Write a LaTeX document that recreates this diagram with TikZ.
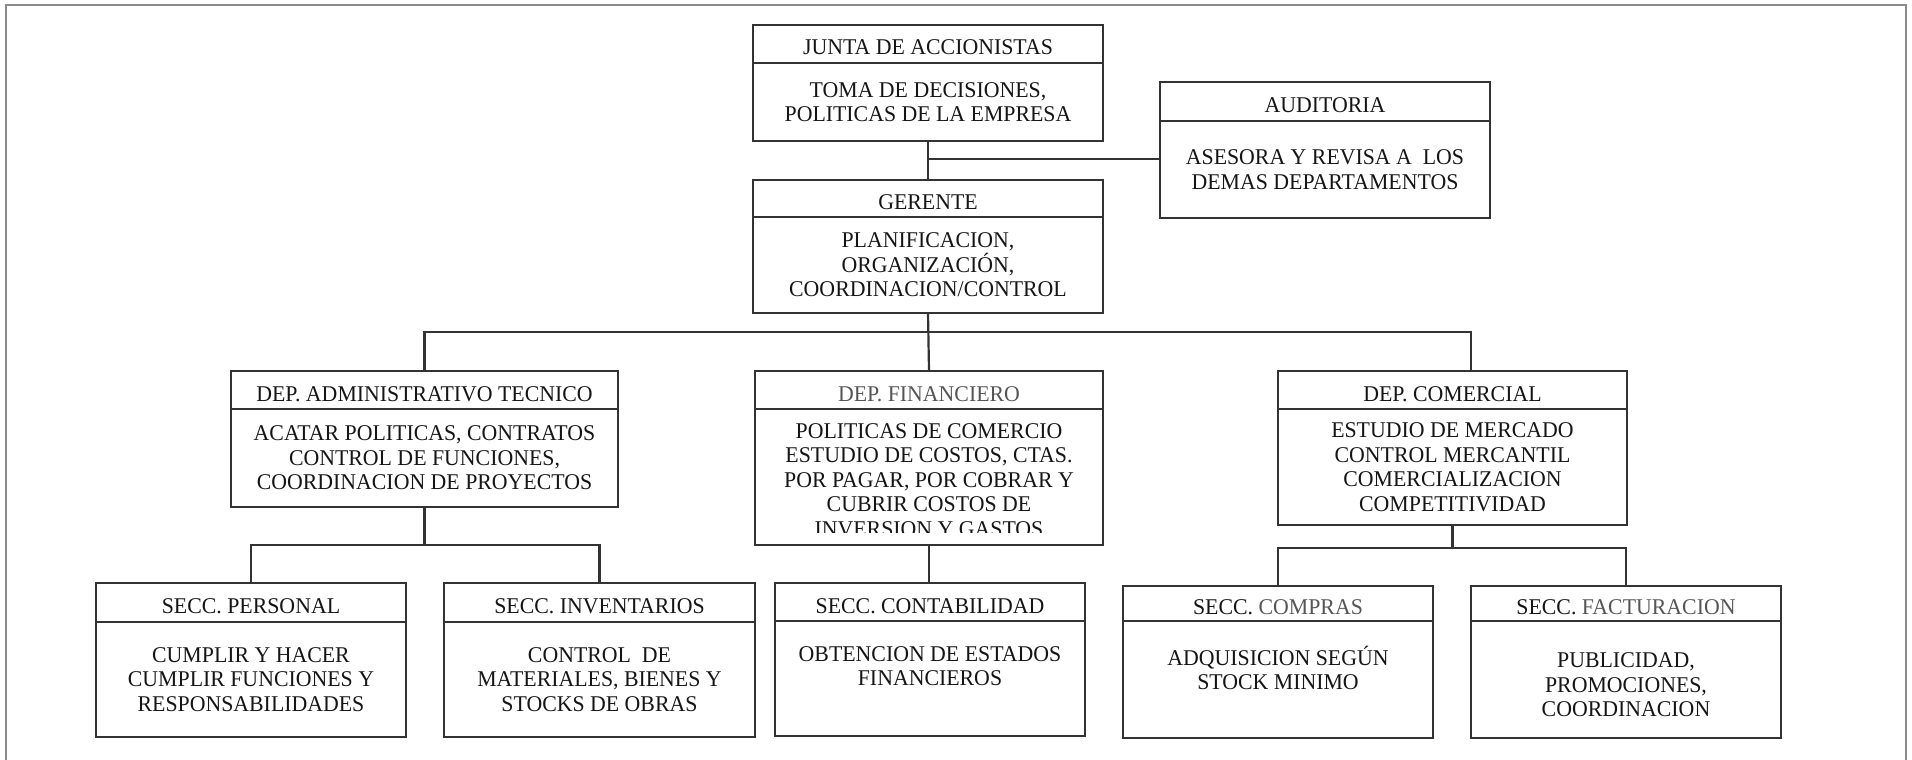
\documentclass[tikz,border=0pt]{standalone}
\usepackage{fontspec}
\setmainfont[FakeStretch=0.97]{Liberation Serif}
\definecolor{boxline}{HTML}{333333}
\definecolor{frameline}{HTML}{8A8A8A}
\definecolor{ink}{HTML}{151515}
\definecolor{faded}{HTML}{555555}

\begin{document}
\begin{tikzpicture}[x=1pt,y=-1pt]
    \useasboundingbox (0,0) rectangle (1912,760);
    \tikzset{HeadStyle/.style = {%
        draw=boxline, line width=2.2pt, outer sep=0pt, inner sep=0pt,
        anchor=north, minimum height=38pt, text=ink,
        font=\fontsize{22.5}{24.5}\selectfont, text height=22pt, text depth=0pt},
      BodyStyle/.style = {%
        draw=boxline, line width=2.2pt, outer sep=0pt, inner sep=0pt,
        anchor=north, align=center, text=ink,
        font=\fontsize{22.5}{24.5}\selectfont},
      LinkStyle/.style = {draw=boxline, line width=2.2pt},
      FrameStyle/.style = {draw=frameline, line width=2pt}}
    % outer frame
    \draw[FrameStyle] (6,760) -- (6,5) -- (1906,5) -- (1906,760);
    % top
    \node[HeadStyle, minimum width=350pt] (junta) at (928,25) {JUNTA DE ACCIONISTAS};
    \node[BodyStyle, minimum width=350pt, minimum height=78pt] (juntab) at (junta.south)
        {TOMA DE DECISIONES,\\POLITICAS DE LA EMPRESA};
    \node[HeadStyle, minimum width=330pt, minimum height=39pt] (aud) at (1325,82) {AUDITORIA};
    \node[BodyStyle, minimum width=330pt, minimum height=97pt] (audb) at (aud.south)
        {ASESORA Y REVISA A\ \ LOS\\DEMAS DEPARTAMENTOS};
    \node[HeadStyle, minimum width=350pt, minimum height=37pt] (ger) at (928,180) {GERENTE};
    \node[BodyStyle, minimum width=350pt, minimum height=96pt] (gerb) at (ger.south)
        {PLANIFICACION,\\ORGANIZACIÓN,\\COORDINACION/CONTROL};
    % departments
    \node[HeadStyle, minimum width=387pt] (adm) at (424.5,371) {DEP. ADMINISTRATIVO TECNICO};
    \node[BodyStyle, minimum width=387pt, minimum height=98pt] (admb) at (adm.south)
        {ACATAR POLITICAS, CONTRATOS\\CONTROL DE FUNCIONES,\\COORDINACION DE PROYECTOS};
    \node[HeadStyle, minimum width=348pt, text=faded] (fin) at (929,371) {DEP. FINANCIERO};
    \node[BodyStyle, minimum width=348pt, minimum height=136pt] (finb) at (fin.south) {};
    \begin{scope}
        \clip (755,409) rectangle (1103,532);
        \node[BodyStyle, draw=none, anchor=center] (fintext) at (929,480)
            {POLITICAS DE COMERCIO\\ESTUDIO DE COSTOS, CTAS.\\POR PAGAR, POR COBRAR Y\\CUBRIR COSTOS DE\\INVERSION Y GASTOS};
    \end{scope}
    \node[HeadStyle, minimum width=349pt] (com) at (1452.5,371) {DEP. COMERCIAL};
    \node[BodyStyle, minimum width=349pt, minimum height=116pt] (comb) at (com.south)
        {ESTUDIO DE MERCADO\\CONTROL MERCANTIL\\COMERCIALIZACION\\COMPETITIVIDAD};
    % sections
    \node[HeadStyle, minimum width=310pt, minimum height=39pt] (pers) at (251,583) {SECC. PERSONAL};
    \node[BodyStyle, minimum width=310pt, minimum height=115pt] (persb) at (pers.south)
        {CUMPLIR Y HACER\\CUMPLIR FUNCIONES Y\\RESPONSABILIDADES};
    \node[HeadStyle, minimum width=311pt, minimum height=39pt] (inv) at (599.5,583) {SECC. INVENTARIOS};
    \node[BodyStyle, minimum width=311pt, minimum height=115pt] (invb) at (inv.south)
        {CONTROL\ \ DE\\MATERIALES, BIENES Y\\STOCKS DE OBRAS};
    \node[HeadStyle, minimum width=310pt] (con) at (930,583) {SECC. CONTABILIDAD};
    \node[BodyStyle, minimum width=310pt, minimum height=115pt] (conb) at (con.south)
        {OBTENCION DE ESTADOS\\FINANCIEROS\\~};
    \node[HeadStyle, minimum width=310pt, minimum height=35pt] (compr) at (1278,586)
        {SECC. \textcolor{faded}{COMPRAS}};
    \node[BodyStyle, minimum width=310pt, minimum height=117pt] (comprb) at (compr.south)
        {\rule{0pt}{20pt}ADQUISICION SEGÚN\\STOCK MINIMO\\~};
    \node[HeadStyle, minimum width=310pt, minimum height=35pt] (fact) at (1626,586)
        {SECC. \textcolor{faded}{FACTURACION}};
    \node[BodyStyle, minimum width=310pt, minimum height=117pt] (factb) at (fact.south)
        {\rule{0pt}{26pt}PUBLICIDAD,\\PROMOCIONES,\\COORDINACION};
    % links
    \coordinate (jg) at (928,159);
    \coordinate (bus) at (928,332);
    \coordinate (busend) at (1471,332);
    \coordinate (admbus) at (424.5,545);
    \coordinate (combus) at (1452.5,548);
    \draw[LinkStyle] (juntab.south) -- (ger.north);
    \draw[LinkStyle] (jg) -- (jg -| audb.west);
    \draw[LinkStyle] (gerb.south) -- (fin.north);
    \draw[LinkStyle] (adm.north) |- (bus) -- (busend) -- (busend |- com.north);
    \draw[LinkStyle] (admb.south) -- (admbus);
    \draw[LinkStyle] (pers.north) |- (admbus) -| (inv.north);
    \draw[LinkStyle] (finb.south) -- (finb.south |- con.north);
    \draw[LinkStyle] (comb.south) -- (combus);
    \draw[LinkStyle] (compr.north) |- (combus) -| (fact.north);
\end{tikzpicture}
\end{document}
